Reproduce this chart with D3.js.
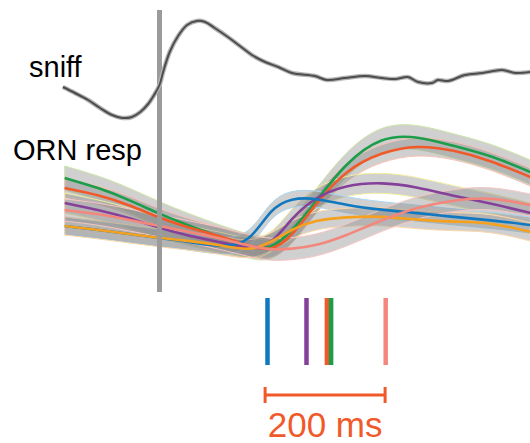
<!DOCTYPE html>
<html>
<head>
<meta charset="utf-8">
<script src="https://d3js.org/d3.v7.min.js"></script>
<style>
  body { margin: 0; background: #fff; }
  svg { display: block; font-family: "Liberation Sans", Arial, sans-serif; }
</style>
</head>
<body>
<div id="chart"></div>
<script>

// sniff trace (time in ms from inhalation onset, arbitrary units)
var sniffTimes = [-161, -141, -119, -99, -79, -62, -46, -32, -19, -9, 0, 6, 17, 31, 46, 62, 76, 92, 114, 134,
  154, 176, 198, 221, 259, 279, 309, 343, 371, 393, 414, 431, 454, 464, 481, 509, 538, 571, 593, 618];
var sniffValues = [3.3, 2.7, 2.0, 1.2, 0.5, 0.2, 0.3, 0.8, 1.6, 2.5, 3.5, 4.8, 6.8, 8.4, 9.5, 9.9, 9.8, 9.2, 8.3, 7.4,
  6.5, 5.8, 5.3, 4.7, 4.4, 4.0, 4.2, 4.4, 4.2, 4.1, 4.3, 3.8, 3.7, 4.0, 3.9, 4.5, 4.7, 5.0, 4.7, 4.8];

// ORN responses per glomerulus
var ornTimes = [-158, -100, -50, 0, 50, 100, 150, 185, 220, 260, 310, 370, 430, 490, 550, 618];
var greenResp  = [9.2, 8.2, 7.0, 5.6, 4.4, 3.3, 2.3, 2.0, 3.8, 6.8, 10.7, 13.4, 13.4, 12.4, 11.5, 9.8];
var redResp    = [8.2, 7.5, 6.5, 5.2, 4.2, 3.4, 2.4, 1.8, 3.3, 6.6, 10.0, 11.8, 12.5, 12.0, 11.0, 9.3];
var purpleResp = [6.7, 6.0, 5.2, 4.2, 3.4, 2.8, 2.1, 2.4, 5.2, 7.3, 8.5, 8.8, 8.3, 7.4, 6.7, 5.7];
var blueResp   = [4.4, 4.0, 3.6, 3.2, 2.8, 2.3, 2.6, 6.2, 7.2, 7.2, 6.5, 6.0, 5.7, 5.3, 5.0, 4.5];
var orangeResp = [4.4, 4.0, 3.6, 3.2, 2.9, 2.5, 1.9, 2.7, 4.1, 5.0, 5.3, 5.4, 5.0, 4.8, 4.8, 3.8];
var salmonResp = [6.0, 5.6, 5.0, 4.4, 3.8, 3.2, 2.4, 2.0, 2.1, 2.4, 3.4, 5.0, 6.3, 7.0, 7.3, 6.5];

var seriesNames  = ["green", "red", "purple", "blue", "orange", "salmon"];
var seriesColors = ["#1c9d4a", "#f0592a", "#85409a", "#1078c0", "#f5a11e", "#f4877c"];
var bandEdges    = ["#cde6a6", "#f9c3b3", "#f3efa0", "#a9d6f1", "#fdd8a8", "#f8c6c4"];
var bandHalf     = [1.2, 0.9, 1.0, 0.8, 0.9, 1.1];

// response latencies (ms) and scale bar
var latencyTimes  = [180, 245, 279, 286, 377];
var latencyColors = ["#1078c0", "#85409a", "#f0592a", "#1c9d4a", "#f4877c"];
var scaleStart = 176, scaleLength = 200;

var allResp = [greenResp, redResp, purpleResp, blueResp, orangeResp, salmonResp];

var width = 530, height = 443;

var svg = d3.select("#chart").append("svg")
  .attr("width", width)
  .attr("height", height);

var x = d3.scaleLinear().domain([-160, 617.5]).range([63.5, 530]);
var ySniff = d3.scaleLinear().domain([0, 10]).range([120, 20]);
var yOrn = d3.scaleLinear().domain([0, 14]).range([270, 130]);

var curve = d3.curveBasis;

// bands
var area = d3.area()
  .x(function(d) { return x(d.t); })
  .y0(function(d) { return yOrn(d.v - d.h); })
  .y1(function(d) { return yOrn(d.v + d.h); })
  .curve(curve);

var line = d3.line()
  .x(function(d) { return x(d.t); })
  .y(function(d) { return yOrn(d.v); })
  .curve(curve);

var series = allResp.map(function(vals, i) {
  return ornTimes.map(function(t, j) { return { t: t, v: vals[j], h: bandHalf[i] }; });
});

svg.append("g").attr("class", "bands")
  .selectAll("path")
  .data(series)
  .enter().append("path")
  .attr("d", area)
  .attr("fill", "#8a8a8a")
  .attr("fill-opacity", 0.4)
  .attr("stroke", function(d, i) { return bandEdges[i]; })
  .attr("stroke-width", 1);

svg.append("g").attr("class", "lines")
  .selectAll("path")
  .data(series)
  .enter().append("path")
  .attr("d", line)
  .attr("fill", "none")
  .attr("stroke", function(d, i) { return seriesColors[i]; })
  .attr("stroke-width", 2.6);

// inhalation onset
svg.append("line")
  .attr("x1", x(0)).attr("x2", x(0))
  .attr("y1", 10).attr("y2", 292)
  .attr("stroke", "#9b9b9b")
  .attr("stroke-width", 5);

// sniff
var sniffLine = d3.line()
  .x(function(d, i) { return x(sniffTimes[i]); })
  .y(function(d) { return ySniff(d); })
  .curve(d3.curveCatmullRom.alpha(0.5));

svg.append("path")
  .datum(sniffValues)
  .attr("d", sniffLine)
  .attr("fill", "none")
  .attr("stroke", "#b5b5b5")
  .attr("stroke-width", 4.5);

svg.append("path")
  .datum(sniffValues)
  .attr("d", sniffLine)
  .attr("fill", "none")
  .attr("stroke", "#4d4d4d")
  .attr("stroke-width", 2);

// latency ticks
svg.append("g").selectAll("line")
  .data(latencyTimes)
  .enter().append("line")
  .attr("x1", function(d) { return x(d); })
  .attr("x2", function(d) { return x(d); })
  .attr("y1", 298).attr("y2", 365)
  .attr("stroke", function(d, i) { return latencyColors[i]; })
  .attr("stroke-width", 4.5);

// scale bar
var sb = svg.append("g").attr("stroke", "#f0592a").attr("stroke-width", 3);
sb.append("line")
  .attr("x1", x(scaleStart)).attr("x2", x(scaleStart + scaleLength))
  .attr("y1", 395).attr("y2", 395);
sb.append("line")
  .attr("x1", x(scaleStart)).attr("x2", x(scaleStart))
  .attr("y1", 387).attr("y2", 403);
sb.append("line")
  .attr("x1", x(scaleStart + scaleLength)).attr("x2", x(scaleStart + scaleLength))
  .attr("y1", 387).attr("y2", 403);

svg.append("text")
  .attr("x", x(scaleStart + scaleLength / 2))
  .attr("y", 437)
  .attr("text-anchor", "middle")
  .attr("font-size", 35)
  .attr("fill", "#f0592a")
  .text(scaleLength + " ms");

// labels
svg.append("text")
  .attr("x", 29).attr("y", 77)
  .attr("font-size", 29)
  .text("sniff");

svg.append("text")
  .attr("x", 13).attr("y", 160)
  .attr("font-size", 29)
  .text("ORN resp");

</script>
</body>
</html>
